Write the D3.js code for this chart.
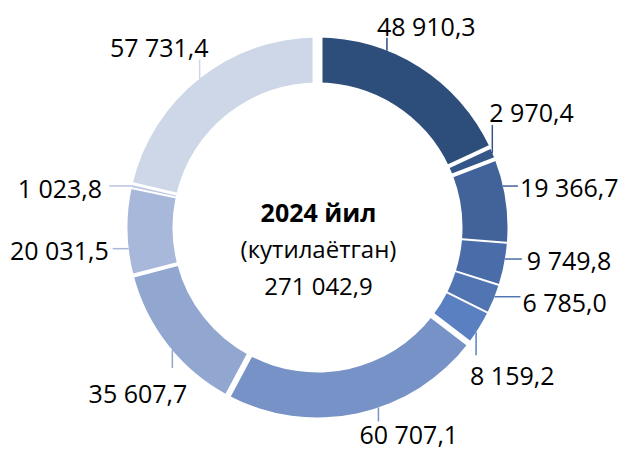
<!DOCTYPE html>
<html>
<head>
<meta charset="utf-8">
<script src="https://cdn.jsdelivr.net/npm/d3@7"></script>
<style>
  body { margin: 0; background: #fff; }
  text { font-family: "Open Sans", "Noto Sans", sans-serif; }
</style>
</head>
<body>
<svg width="622" height="451"></svg>
<script>
// data
const values = [48910.3, 2970.4, 19366.7, 9749.8, 6785.0, 8159.2, 60707.1, 35607.7, 20031.5, 1023.8, 57731.4]
const labels = ['48 910,3', '2 970,4', '19 366,7', '9 749,8', '6 785,0', '8 159,2', '60 707,1', '35 607,7', '20 031,5', '1 023,8', '57 731,4']
const centerLines = ['2024 йил', '(кутилаётган)', '271 042,9']

// styles
const colors = ['#2d4d7b', '#355689', '#42629a', '#4a6ca8', '#5175b3', '#5b80c1', '#7792c6', '#92a7d0', '#a8b8da', '#b9c6e2', '#cdd7e8']
const gaps = [4, 4, 2, 2, 2, 6, 6, 4, 2, 3, 10] // white gap after each slice, px
// leader: where it touches the slice (fraction), direction, length, text anchor, text offset
const leaders = [
  { f: 0.33, dir: 'up', len: 13, anchor: 'start', dx: -10, dy: -12 },
  { f: 0.5, dir: 'up', len: 28, anchor: 'start', dx: -3, dy: -13 },
  { f: 0.33, dir: 'right', len: 15, anchor: 'start', dx: 2, dy: 1 },
  { f: 0.38, dir: 'right', len: 17, anchor: 'start', dx: 5, dy: 1 },
  { f: 0.42, dir: 'right', len: 26, anchor: 'start', dx: 2, dy: 5 },
  { f: 0.63, dir: 'down', len: 23, anchor: 'start', dx: -6, dy: 20 },
  { f: 0.42, dir: 'down', len: 14, anchor: 'start', dx: -19, dy: 13 },
  { f: 0.46, dir: 'down', len: 18, anchor: 'end', dx: 15, dy: 25 },
  { f: 0.31, dir: 'left', len: 16, anchor: 'end', dx: -4, dy: 1 },
  { f: 0.5, dir: 'left', len: 23, anchor: 'end', dx: -7, dy: 2 },
  { f: 0.5, dir: 'up', len: 19, anchor: 'end', dx: 9, dy: -12 }
]

const svg = d3.select('svg')
const cx = 317.5, cy = 227.5
const outerR = 190, innerR = 145

const g = svg.append('g').attr('transform', `translate(${cx},${cy})`)

const pie = d3.pie().sort(null).value(d => d)
const arcs = pie(values)
const arc = d3.arc().innerRadius(innerR).outerRadius(outerR)

g.selectAll('path.slice')
  .data(arcs)
  .enter().append('path')
    .attr('class', 'slice')
    .attr('d', arc)
    .attr('fill', (d, i) => colors[i])

// white gaps at slice boundaries
g.selectAll('line.gap')
  .data(arcs)
  .enter().append('line')
    .attr('class', 'gap')
    .attr('x1', d => (innerR - 3) * Math.sin(d.endAngle))
    .attr('y1', d => -(innerR - 3) * Math.cos(d.endAngle))
    .attr('x2', d => (outerR + 3) * Math.sin(d.endAngle))
    .attr('y2', d => -(outerR + 3) * Math.cos(d.endAngle))
    .attr('stroke', '#fff')
    .attr('stroke-width', (d, i) => gaps[i])

// leader lines and labels
arcs.forEach((d, i) => {
  const l = leaders[i]
  const a = d.startAngle + l.f * (d.endAngle - d.startAngle)
  const x1 = outerR * Math.sin(a), y1 = -outerR * Math.cos(a)
  let x2 = x1, y2 = y1
  if (l.dir === 'up') y2 -= l.len
  if (l.dir === 'down') y2 += l.len
  if (l.dir === 'left') x2 -= l.len
  if (l.dir === 'right') x2 += l.len
  g.append('line')
    .attr('x1', x1).attr('y1', y1)
    .attr('x2', x2).attr('y2', y2)
    .attr('stroke', colors[i])
    .attr('stroke-width', 1.5)
  g.append('text')
    .attr('x', x2 + l.dx)
    .attr('y', y2 + l.dy)
    .attr('text-anchor', l.anchor)
    .attr('dominant-baseline', 'central')
    .attr('font-size', 25)
    .attr('fill', '#000')
    .text(labels[i])
})

// center text
const centerY = [-16, 21, 58]
g.selectAll('text.center')
  .data(centerLines)
  .enter().append('text')
    .attr('class', 'center')
    .attr('x', 1)
    .attr('y', (d, i) => centerY[i])
    .attr('text-anchor', 'middle')
    .attr('dominant-baseline', 'central')
    .attr('font-size', (d, i) => i === 0 ? 25 : 24)
    .attr('font-weight', (d, i) => i === 0 ? 'bold' : 'normal')
    .attr('fill', '#000')
    .text(d => d)
</script>
</body>
</html>
